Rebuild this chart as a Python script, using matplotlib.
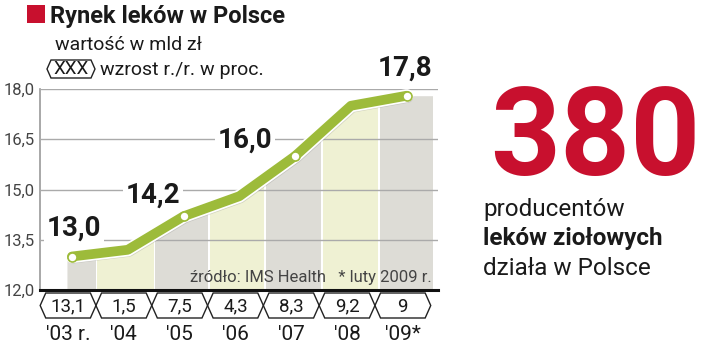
import numpy as np
import matplotlib.pyplot as plt
import matplotlib.patheffects as pe
from matplotlib.patches import Polygon, Rectangle
from matplotlib.transforms import blended_transform_factory

plt.rcParams['font.family'] = ['Roboto', 'DejaVu Sans']

# data
years = ["'03 r.", "'04", "'05", "'06", "'07", "'08", "'09*"]
value = [13.0, 13.2, 14.2, 14.8, 16.0, 17.5, 17.8]
growth = ['13,1', '1,5', '7,5', '4,3', '8,3', '9,2', '9']
labelled = [0, 2, 4, 6]
yticks = [12.0, 13.5, 15.0, 16.5, 18.0]

W, H = 720, 349
green = '#9dbb3a'
red = '#c8102e'
grey_bar = '#dddcd6'
yellow_bar = '#eff1d3'


def fx(x):
    return x / W


def fy(y):
    return 1 - y / H


fig = plt.figure(figsize=(W / 100, H / 100), dpi=100)
ax = fig.add_axes([fx(40), fy(290), fx(438) - fx(40), fy(89) - fy(290)])

x = np.arange(len(value))
ax.set_xlim(-0.573, 6.56)
ax.set_ylim(12, 18)

# columns under the line, alternating colours
xs = np.r_[-0.09, x, 6.47]
ys = np.r_[value[0], value, value[-1]]
edges = [-0.09, 0.43, 1.47, 2.45, 3.45, 4.47, 5.5, 6.47]
for i in range(len(value)):
    col = grey_bar if i % 2 == 0 else yellow_bar
    poly = ax.fill_between(xs, 12, ys, color=col, lw=0, zorder=1)
    left = edges[i] + (0.025 if i > 0 else 0)
    right = edges[i + 1] - 0.025
    clip = Rectangle((left, 12), right - left, 7, transform=ax.transData)
    poly.set_clip_path(clip)

# grid
ax.set_yticks(yticks)
ax.set_yticklabels([f'{t:.1f}'.replace('.', ',') for t in yticks])
ax.yaxis.grid(True, color='#aaaaaa', lw=1)
ax.set_axisbelow(False)
ax.set_xticks([])
ax.tick_params(axis='y', length=0, pad=4, labelsize=12, labelcolor='#444444')
for s in ['top', 'right']:
    ax.spines[s].set_visible(False)
ax.spines['left'].set_color('#999999')
ax.spines['left'].set_linewidth(1.2)
ax.spines['bottom'].set_color('#111111')
ax.spines['bottom'].set_linewidth(2.2)
ax.spines['bottom'].set_zorder(3)

# line
ax.plot(x, value, color=green, lw=7, solid_capstyle='round', solid_joinstyle='round',
        zorder=5, clip_on=False,
        path_effects=[pe.SimpleLineShadow(offset=(1, -1.5), alpha=0.25, shadow_color='#777777'),
                      pe.Stroke(linewidth=9.5, foreground='white'), pe.Normal()])
ax.plot(x[labelled], np.array(value)[labelled], 'o', ms=6.5, mfc='white', mec=green,
        mew=1.2, zorder=6, clip_on=False)

# value labels
offsets = [(2, 28.5), (-31, 21), (-50, 16), (-2, 28)]
for i, (dx, dy) in zip(labelled, offsets):
    ax.annotate(f'{value[i]:.1f}'.replace('.', ','), (x[i], value[i]),
                xytext=(dx, dy), textcoords='offset pixels', ha='center', va='center',
                fontsize=20, fontweight='bold', color='#1a1a1a', zorder=4,
                annotation_clip=False,
                bbox=dict(boxstyle='square,pad=0.1', fc='white', ec='none'))

ax.text(6.45, 12.36, 'źródło: IMS Health   * luty 2009 r.', ha='right', va='center',
        fontsize=12, color='#444444', zorder=4)

# growth hexagons below the axis
tr = blended_transform_factory(ax.transData, fig.transFigure)
top, bot = fy(293), fy(318)
mid = (top + bot) / 2
for i, g in enumerate(growth):
    c = x[i] - 0.07
    pts = [(c - 0.5, mid), (c - 0.4, top), (c + 0.4, top), (c + 0.5, mid),
           (c + 0.4, bot), (c - 0.4, bot)]
    fig.patches.append(Polygon(pts, closed=True, fc='none', ec='#222222', lw=1,
                               transform=tr))
    fig.text(c, mid - 0.003, g, transform=tr, ha='center', va='center', fontsize=13.5,
             color='#1a1a1a')
    fig.text(c, fy(335), years[i], transform=tr, ha='center', va='center', fontsize=15,
             color='#1a1a1a')

# title block
fig.patches.append(Rectangle((fx(27), fy(23)), fx(45) - fx(27), fy(5) - fy(23),
                             transform=fig.transFigure, fc=red, ec='none'))
fig.text(fx(50), fy(23), 'Rynek leków w Polsce', ha='left', va='baseline',
         fontsize=17, fontweight='bold', color='#1a1a1a')
fig.text(fx(55), fy(50), 'wartość w mld zł', ha='left', va='baseline',
         fontsize=14, color='#1a1a1a')
hx = [(47, 69), (51, 60), (91, 60), (95, 69), (91, 78), (51, 78)]
fig.patches.append(Polygon([(fx(a), fy(b)) for a, b in hx], closed=True, fc='none',
                           ec='#222222', lw=1, transform=fig.transFigure))
fig.text(fx(71), fy(74.5), 'XXX', ha='center', va='baseline', fontsize=13.5,
         color='#1a1a1a')
fig.text(fx(100), fy(75), 'wzrost r./r. w proc.', ha='left', va='baseline',
         fontsize=14, color='#1a1a1a')

# right side
fig.text(fx(490), fy(175), '380', ha='left', va='baseline', fontsize=88,
         fontweight='bold', color=red)
fig.text(fx(483), fy(216), 'producentów', ha='left', va='baseline', fontsize=17.5,
         color='#1a1a1a')
fig.text(fx(483), fy(245), 'leków ziołowych', ha='left', va='baseline', fontsize=17.5,
         fontweight='bold', color='#1a1a1a')
fig.text(fx(483), fy(275), 'działa w Polsce', ha='left', va='baseline', fontsize=17.5,
         color='#1a1a1a')

fig.savefig('out.png', dpi=100)
